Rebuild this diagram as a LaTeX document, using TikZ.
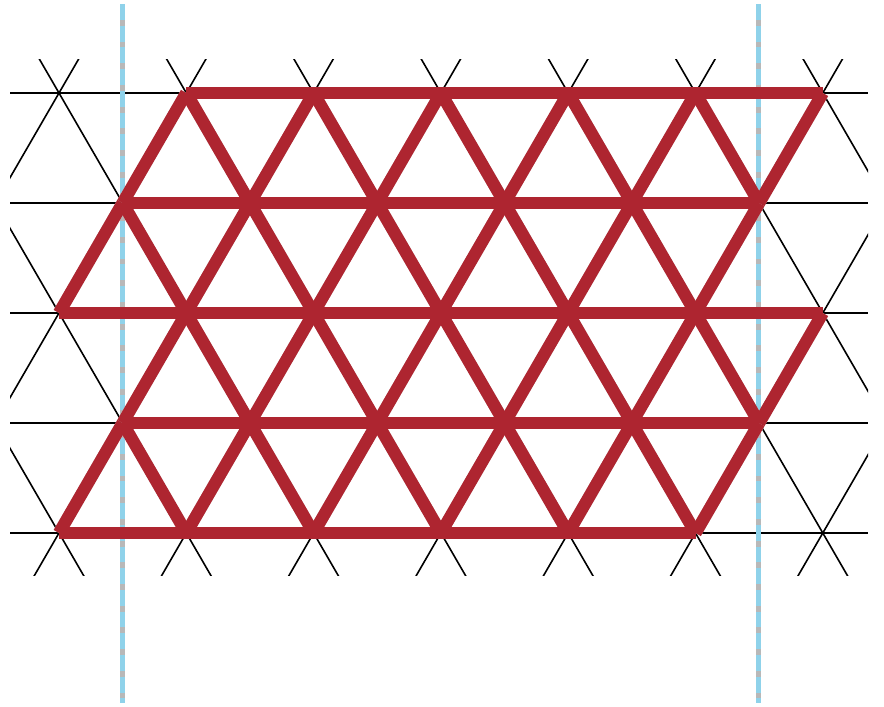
\documentclass[tikz,border=0pt]{standalone}
\definecolor{edgered}{HTML}{AE2530}
\definecolor{cellblue}{HTML}{8FD2EA}
\tikzset{
  lattice/.style={black, line width=1.6pt},
  redbond/.style={edgered, line width=12.3pt, line cap=butt},
  bondshadow/.style={black!16, line width=12.3pt, line cap=butt},
  boundary/.style={cellblue, line width=5pt, dash pattern=on 15.8pt off 5.9pt},
  boundaryshade/.style={black!28, line width=5pt},
}
\newcommand{\drawbonds}[1]{%
  \draw[#1] (v0-1) -- (v0-6) (v1-0) -- (v1-5) (v2-0) -- (v2-6)
            (v3-0) -- (v3-5) (v4-0) -- (v4-5);
  \foreach \k in {1,...,6}{\pgfmathtruncatemacro{\j}{\k-1}\draw[#1] (v0-\k) -- (v1-\j);}
  \foreach \k in {1,...,5}{\draw[#1] (v0-\k) -- (v1-\k);}
  \foreach \k in {0,...,5}{\draw[#1] (v1-\k) -- (v2-\k);}
  \foreach \k in {0,...,4}{\pgfmathtruncatemacro{\j}{\k+1}\draw[#1] (v1-\k) -- (v2-\j);}
  \foreach \k in {1,...,6}{\pgfmathtruncatemacro{\j}{\k-1}\draw[#1] (v2-\k) -- (v3-\j);}
  \foreach \k in {1,...,5}{\draw[#1] (v2-\k) -- (v3-\k);}
  \foreach \k in {0,...,5}{\draw[#1] (v3-\k) -- (v4-\k);}
  \foreach \k in {0,...,4}{\pgfmathtruncatemacro{\j}{\k+1}\draw[#1] (v3-\k) -- (v4-\j);}
}
\begin{document}
\begin{tikzpicture}[x=1pt,y=-1pt]
\useasboundingbox (0,0) rectangle (884,707);
\def\latA{127.3}
\def\latH{110}
\pgfmathsetmacro{\slope}{\latA/(2*\latH)}
% lattice vertices
\foreach \r in {0,...,4}{
  \foreach \k in {0,...,6}{
    \pgfmathsetmacro{\xx}{59 + \k*\latA + mod(\r,2)*\latA/2}
    \pgfmathsetmacro{\yy}{93 + \r*\latH}
    \coordinate (v\r-\k) at (\xx,\yy);
  }
}
% background triangular lattice
\begin{scope}
  \clip (10,59) rectangle (868,575);
  \foreach \r in {0,...,4}{
    \pgfmathsetmacro{\yy}{93 + \r*\latH}
    \draw[lattice] (10,\yy) -- (868,\yy);
  }
  \foreach \k in {-4,...,10}{
    \pgfmathsetmacro{\xa}{59 + \k*\latA - 50*\slope}
    \pgfmathsetmacro{\xb}{59 + \k*\latA + 550*\slope}
    \pgfmathsetmacro{\xc}{59 + \k*\latA + 50*\slope}
    \pgfmathsetmacro{\xd}{59 + \k*\latA - 550*\slope}
    \draw[lattice] (\xa,43) -- (\xb,643);
    \draw[lattice] (\xc,43) -- (\xd,643);
  }
\end{scope}
% periodic boundaries
\coordinate (b1top) at (122.3,4);
\coordinate (b1bot) at (122.3,703);
\coordinate (b2top) at (758.3,4);
\coordinate (b2bot) at (758.3,703);
\draw[boundaryshade] (b1top) -- (b1bot);
\draw[boundaryshade] (b2top) -- (b2bot);
\draw[boundary] (b1top) -- (b1bot);
\draw[boundary] (b2top) -- (b2bot);
% red bonds with soft shadow
\begin{scope}[shift={(0.7,1.6)}]
  \drawbonds{bondshadow}
\end{scope}
\drawbonds{redbond}
\end{tikzpicture}
\end{document}
